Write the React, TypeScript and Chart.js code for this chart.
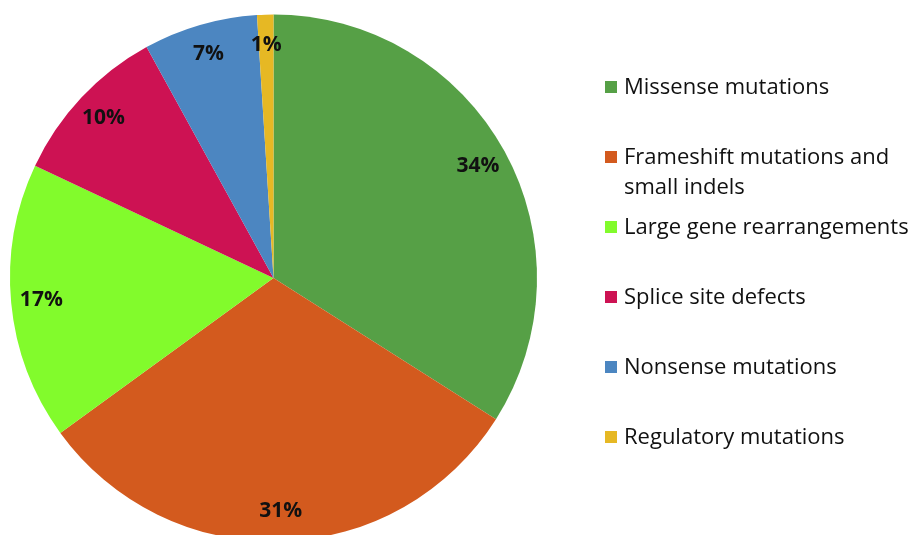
import React, { useEffect, useRef } from "react";
import { Chart, registerables } from "chart.js";

Chart.register(...registerables);

const categories: (string | string[])[] = [
  "Missense mutations",
  ["Frameshift mutations and", "small indels"],
  "Large gene rearrangements",
  "Splice site defects",
  "Nonsense mutations",
  "Regulatory mutations",
];
const percentages = [34, 31, 17, 10, 7, 1];
const sliceColors = ["#56A046", "#D35A1E", "#82FB2C", "#CD1253", "#4C86C1", "#E6B824"];

const FONT = "'Open Sans', 'Noto Sans', sans-serif";

const labelPlugin = {
  id: "sliceLabels",
  afterDatasetsDraw(chart: any) {
    const ctx = chart.ctx;
    const meta = chart.getDatasetMeta(0);
    ctx.save();
    ctx.font = `bold 21px ${FONT}`;
    ctx.fillStyle = "#111111";
    ctx.textAlign = "center";
    ctx.textBaseline = "middle";
    meta.data.forEach((arc: any, i: number) => {
      const { x, y, startAngle, endAngle, outerRadius } = arc.getProps(
        ["x", "y", "startAngle", "endAngle", "outerRadius"],
        true
      );
      const mid = (startAngle + endAngle) / 2;
      const r = outerRadius * 0.885;
      ctx.fillText(`${percentages[i]}%`, x + Math.cos(mid) * r, y + Math.sin(mid) * r);
    });
    ctx.restore();
  },
};

const legendPlugin = {
  id: "sideLegend",
  afterDraw(chart: any) {
    const ctx = chart.ctx;
    ctx.save();
    ctx.font = `22px ${FONT}`;
    ctx.textBaseline = "middle";
    ctx.textAlign = "left";
    const boxX = 605;
    const textX = 624;
    const firstY = 87;
    const step = 70;
    const lineH = 30;
    const labels = chart.data.labels as (string | string[])[];
    labels.forEach((lab, i) => {
      const y = firstY + i * step;
      ctx.fillStyle = sliceColors[i];
      ctx.fillRect(boxX, y - 6, 12, 12);
      ctx.fillStyle = "#111111";
      const lines = Array.isArray(lab) ? lab : [lab];
      lines.forEach((ln, j) => ctx.fillText(ln, textX, y + 1 + j * lineH));
    });
    ctx.restore();
  },
};

export default function App() {
  const ref = useRef<HTMLCanvasElement | null>(null);
  useEffect(() => {
    if (!ref.current) return;
    const chart = new Chart(ref.current, {
      type: "pie",
      data: {
        labels: categories as any,
        datasets: [
          {
            data: percentages,
            backgroundColor: sliceColors,
            borderWidth: 0,
          },
        ],
      },
      options: {
        animation: false,
        responsive: false,
        maintainAspectRatio: false,
        layout: { padding: { left: 10, top: 14, right: 375, bottom: 18 } },
        plugins: {
          legend: { display: false },
          tooltip: { enabled: false },
        },
      },
      plugins: [labelPlugin, legendPlugin],
    });
    return () => chart.destroy();
  }, []);
  return (
    <div style={{ position: "absolute", left: 0, top: 0, width: 912, height: 535, overflow: "hidden", background: "#fff" }}>
      <canvas ref={ref} width={912} height={560} style={{ width: 912, height: 560, display: "block" }} />
    </div>
  );
}
